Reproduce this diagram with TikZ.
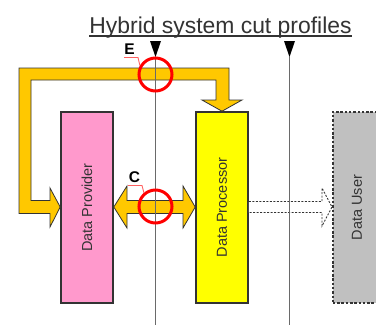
\documentclass[tikz,border=0pt]{standalone}
\usepackage{fontspec}
\setmainfont{Liberation Sans}
\definecolor{orangeA}{HTML}{FFC800}
\definecolor{pinkA}{HTML}{FF99CC}
\definecolor{yellowA}{HTML}{FFFF00}
\definecolor{grayA}{HTML}{C0C0C0}
\definecolor{edgeA}{HTML}{333333}
\definecolor{cutA}{HTML}{6A6A6A}
\definecolor{calloutA}{HTML}{FF6060}
\definecolor{textA}{HTML}{333333}
\begin{document}
\begin{tikzpicture}[x=1pt,y=-1pt,
  boxA/.style={draw=edgeA,line width=1.6pt},
  bandA/.style={fill=orangeA,draw=edgeA,line width=0.8pt,line join=miter},
  cutline/.style={draw=cutA,line width=1.3pt},
  cutmark/.style={fill=black},
  ring/.style={draw=red,line width=3pt},
  callout/.style={draw=calloutA,line width=0.9pt},
  lab/.style={font=\fontsize{15.5}{15.5}\selectfont\bfseries,text=black,inner sep=0pt},
  boxtext/.style={font=\fontsize{14.5}{14.5}\selectfont,text=textA,rotate=90,inner sep=0pt}]
\useasboundingbox (0,0) rectangle (376,325);
\clip (0,0) rectangle (376,325);
\fill[white] (0,0) rectangle (376,325);
% title
\node[font=\fontsize{22.9}{22.9}\selectfont,text=edgeA,anchor=base,inner sep=0pt] (title) at (220.5,33) {Hybrid system cut profiles};
\draw[edgeA,line width=1.5pt] (title.base west) ++(0,3) -- ([yshift=-3pt]title.base east);
% boxes
\node[boxA,fill=pinkA,minimum width=52pt,minimum height=191pt,inner sep=0pt] (prov) at (87,207.5) {};
\node[boxtext] at (prov.center) {Data Provider};
\node[boxA,fill=yellowA,minimum width=52pt,minimum height=191pt,inner sep=0pt] (proc) at (222,207.5) {};
\node[boxtext] at (proc.center) {Data Processor};
\node[draw=edgeA,line width=1.6pt,dash pattern=on 2.5pt off 1.8pt,fill=grayA,minimum width=60pt,minimum height=191pt,inner sep=0pt,anchor=west] (user) at (332,207.5) {};
\node[boxtext] at (357,207.5) {Data User};
% orange band E
\draw[bandA] (19,68) -- (229,68) -- (229,100) -- (242,100) -- (proc.north) -- (202,100) -- (216,100) -- (216,80) -- (31,80) -- (31,200.5) -- (50,200.5) -- (50,188) -- (prov.west |- 0,207) -- (50,227) -- (50,213.5) -- (19,213.5) -- cycle;
% double arrow C
\draw[bandA] (prov.east |- 0,207) -- (127,186) -- (127,200.5) -- (183,200.5) -- (183,186) -- (proc.west |- 0,207) -- (183,228) -- (183,213.5) -- (127,213.5) -- (127,228) -- cycle;
% dashed arrow
\draw[fill=white,draw=edgeA,line width=0.9pt,dash pattern=on 2pt off 1.5pt] (proc.east |- 0,201.5) -- (322,201.5) -- (322,188) -- (user.west |- 0,207) -- (322,226) -- (322,212.5) -- (proc.east |- 0,212.5);
% cut lines
\coordinate (c1top) at (155.5,57);
\coordinate (c1bot) at (155.5,325);
\coordinate (c2top) at (289.5,57);
\coordinate (c2bot) at (289.5,325);
\draw[cutline] (c1top) -- (c1bot);
\draw[cutline] (c2top) -- (c2bot);
\fill[cutmark] (150,41) -- (161,41) -- (c1top) -- cycle;
\fill[cutmark] (284,41) -- (295,41) -- (c2top) -- cycle;
% rings
\node[ring,circle,minimum size=33pt,inner sep=0pt] (ringE) at (155.5,74.5) {};
\node[ring,circle,minimum size=33pt,inner sep=0pt] (ringC) at (155.5,206.5) {};
% labels
\node[lab] (E) at (129.5,49) {E};
\node[lab] (C) at (134.5,177.5) {C};
\draw[callout] (124,57.5) -- (138,57.5) -- (ringE.150);
\draw[callout] (128,185.5) -- (142,185.5) -- (ringC.130);
\end{tikzpicture}
\end{document}
